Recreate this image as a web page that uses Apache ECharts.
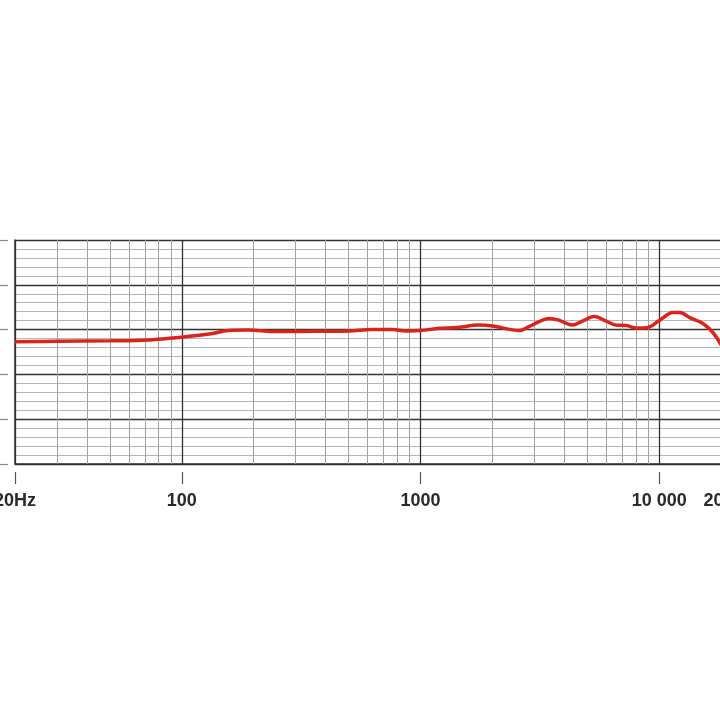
<!DOCTYPE html>
<html>
<head>
<meta charset="utf-8">
<script src="https://cdn.jsdelivr.net/npm/echarts@6/dist/echarts.min.js"></script>
<style>html,body{margin:0;padding:0;background:#fff;}#c{width:720px;height:720px;}</style>
</head>
<body>
<div id="c"></div>
<script>
// Frequency response (Hz, dB)
var freqs = [20, 30, 50, 73, 100, 130, 157, 190, 240, 310, 500, 628, 762, 871, 1000, 1200, 1410, 1760, 2000, 2600, 2860, 3470, 3800, 4340, 4770, 5350, 5990, 6600, 7290, 8030, 8850, 10000, 11450, 12200, 13500, 15000, 16000, 17000, 18000, 20000];
var levels = [-2.7, -2.6, -2.5, -2.3, -1.7, -1.0, -0.2, -0.1, -0.45, -0.4, -0.3, 0.05, 0, -0.3, -0.2, 0.3, 0.45, 1.0, 0.8, -0.2, 0.7, 2.5, 2.1, 1.0, 1.9, 2.9, 1.9, 1.0, 0.9, 0.35, 0.4, 2.0, 3.8, 3.8, 2.6, 1.6, 0.5, -1.0, -3.0, -7.0];
// Minor vertical grid frequencies
var minorFreqs = [30, 40, 50, 60, 70, 80, 90, 200, 300, 400, 500, 600, 700, 800, 900, 2000, 3000, 4000, 5000, 6000, 7000, 8000, 9000];
// Tick labels
var tickLabels = { 20: '20Hz', 100: '100', 1000: '1000', 10000: '10 000', 20000: '20 000' };

var chart = echarts.init(document.getElementById('c'), null, { renderer: 'canvas' });
var curve = freqs.map(function (f, i) { return [f, levels[i]]; });

chart.setOption({
  backgroundColor: '#ffffff',
  animation: false,
  grid: { left: 15, top: 240, right: -11, bottom: 256, containLabel: false, outerBoundsMode: 'none' },
  xAxis: [{
    type: 'log', logBase: 10, min: 20, max: 20000,
    axisLine: { show: true, onZero: false, lineStyle: { color: '#333', width: 1.5 } },
    axisTick: { show: false },
    axisLabel: { show: false },
    splitLine: { show: true, lineStyle: { color: '#333', width: 1.3 } }
  }, {
    type: 'log', logBase: 10, min: 20, max: 20000, position: 'bottom', offset: 8,
    axisLine: { show: true, onZero: false, lineStyle: { color: 'rgba(0,0,0,0)', width: 0 } },
    axisTick: { show: true, inside: false, interval: 0, length: 12, lineStyle: { color: '#555', width: 1.2 } },
    splitLine: { show: false },
    axisLabel: {
      show: true, interval: 0, showMinLabel: true, showMaxLabel: true, margin: 20,
      fontFamily: 'Liberation Sans', fontSize: 18, fontWeight: 'bold', color: '#2a2a2a',
      formatter: function (v) { var k = Math.round(v); return tickLabels[k] || ''; }
    }
  }],
  yAxis: [{
    type: 'value', min: -30, max: 20, interval: 10,
    axisLine: { show: true, lineStyle: { color: '#333', width: 1.5 } },
    axisTick: { show: false },
    axisLabel: { show: false },
    splitLine: { show: true, lineStyle: { color: '#333', width: 1.3 } },
    minorTick: { show: false, splitNumber: 5 },
    minorSplitLine: { show: true, lineStyle: { color: '#b5b5b5', width: 1 } }
  }, {
    type: 'value', min: -30, max: 20, interval: 10, position: 'left', offset: 7,
    axisLine: { show: false },
    axisTick: { show: true, length: 8, lineStyle: { color: '#888', width: 1.2 } },
    axisLabel: { show: false },
    splitLine: { show: false }
  }],
  series: [{
    type: 'line', xAxisIndex: 0, yAxisIndex: 0, data: [], z: 1, silent: true,
    markLine: {
      silent: true, symbol: ['none', 'none'], label: { show: false },
      lineStyle: { color: '#a0a0a0', width: 1, type: 'solid' },
      data: minorFreqs.map(function (f) { return { xAxis: f }; })
    }
  }, {
    type: 'line', xAxisIndex: 0, yAxisIndex: 0, data: curve, z: 5,
    smooth: 0.35, showSymbol: false,
    lineStyle: { color: '#d8241c', width: 3.5 }
  }]
});
</script>
</body>
</html>
